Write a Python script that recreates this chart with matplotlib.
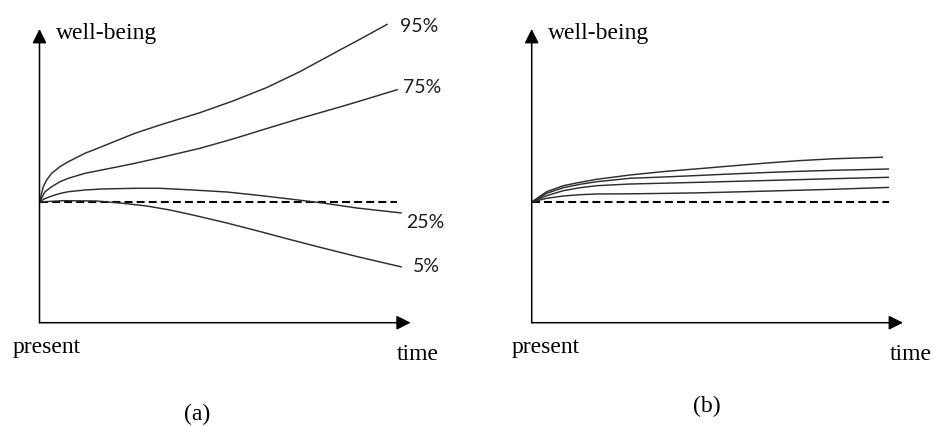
import matplotlib
matplotlib.use("Agg")
import matplotlib.pyplot as plt

# Panel (a): quantile paths of well-being over time (baseline = 0)
t95 = [0, 0.106, 0.201, 0.341, 0.573, 0.806, 1.273, 1.740, 2.204, 2.671, 3.371,
       4.490, 5.413, 6.364, 7.287, 8.406, 8.881, 9.748]
w95 = [0, 1.53, 2.2, 2.87, 3.53, 4.03, 4.87, 5.53, 6.2, 6.87, 7.7,
       8.93, 10.1, 11.45, 13.03, 15.2, 16.1, 17.8]

t75 = [0, 0.154, 0.341, 0.573, 0.806, 1.273, 1.740, 2.204, 2.671, 3.371,
       4.490, 5.413, 6.364, 7.287, 8.406, 8.881, 10.028]
w75 = [0, 1.03, 1.53, 2.03, 2.37, 2.87, 3.2, 3.53, 3.87, 4.43,
       5.37, 6.3, 7.35, 8.35, 9.5, 10.0, 11.25]

t25 = [0, 0.126, 0.341, 0.573, 0.806, 1.273, 1.740, 2.671, 3.371,
       4.294, 5.245, 6.168, 7.007, 7.930, 8.881, 10.14]
w25 = [0, 0.3, 0.6, 0.85, 1.03, 1.2, 1.3, 1.37, 1.37,
       1.2, 1.0, 0.65, 0.3, -0.1, -0.6, -1.1]

t05 = [0, 0.657, 1.600, 2.336, 2.999, 3.650, 4.294, 5.245, 6.168, 7.007, 7.930, 8.881, 10.14]
w05 = [0, 0.13, 0.1, -0.13, -0.4, -0.8, -1.3, -2.1, -2.95, -3.75, -4.6, -5.45, -6.5]

labels_a = ["95%", "75%", "25%", "5%"]

# Panel (b): four narrow paths, all above the baseline
tb = [0, 0.420, 0.884, 1.351, 1.818, 2.750, 3.681, 4.708, 5.631, 6.582, 7.505, 8.428, 10.0]
tb1 = tb[:-1] + [9.83]
wb1 = [0, 1.03, 1.63, 1.97, 2.27, 2.7, 3.04, 3.34, 3.62, 3.9, 4.14, 4.32, 4.48]
wb2 = [0, 0.87, 1.43, 1.77, 2.03, 2.37, 2.5, 2.66, 2.81, 2.95, 3.07, 3.17, 3.3]
wb3 = [0, 0.63, 1.13, 1.43, 1.63, 1.8, 1.88, 1.97, 2.06, 2.15, 2.24, 2.33, 2.47]
wb4 = [0, 0.37, 0.6, 0.73, 0.8, 0.82, 0.86, 0.92, 1.0, 1.09, 1.18, 1.27, 1.46]

t_end = 10.0
t_max = 10.39
w_min, w_max = -12.07, 17.3

W, H = 933, 426
fig = plt.figure(figsize=(W / 100, H / 100), dpi=100)
serif = "Liberation Serif"
curve_kw = dict(color="#2e2e2e", lw=1.05, solid_joinstyle="round",
                solid_capstyle="butt", clip_on=False)
arrow = dict(arrowstyle="-|>,head_length=0.86,head_width=0.43", mutation_scale=10,
             lw=1.1, color="black", shrinkA=0, shrinkB=0)


def px(x, y):
    return x / W, 1 - y / H


def make_panel(x0, x1):
    # x0/x1 in pixels: origin and arrow tip; y from x-axis (322.7) to tip (29)
    left, bottom = px(x0, 322.7)
    ax = fig.add_axes([left, bottom, (x1 - x0) / W, (322.7 - 29) / H])
    ax.set_xlim(0, t_max)
    ax.set_ylim(w_min, w_max)
    ax.axis("off")
    ax.annotate("", xy=(1, 0), xytext=(0, 0), xycoords="axes fraction",
                arrowprops=arrow, annotation_clip=False)
    ax.annotate("", xy=(0, 1), xytext=(0, 0), xycoords="axes fraction",
                arrowprops=arrow, annotation_clip=False)
    ax.plot([0, t_end], [0, 0], color="black", lw=1.5, linestyle=(0, (3.8, 2)))
    return ax


ax1 = make_panel(39.5, 410.7)
ax1.plot(t95, w95, **curve_kw)
ax1.plot(t75, w75, **curve_kw)
ax1.plot(t25, w25, **curve_kw)
ax1.plot(t05, w05, **curve_kw)

offsets = [(12, -2), (5, 2), (4, -10), (11, 0)]
ends = [(t95[-1], w95[-1]), (t75[-1], w75[-1]), (t25[-1], w25[-1]), (t05[-1], w05[-1])]
for lab, (te, we), off in zip(labels_a, ends, offsets):
    ax1.annotate(lab, xy=(te, we), xytext=off, textcoords="offset pixels",
                 ha="left", va="center", fontsize=14, family="Lato", color="#1e1e1e",
                 annotation_clip=False)

ax2 = make_panel(531.7, 903)
ax2.plot(tb1, wb1, **curve_kw)
for wb in (wb2, wb3, wb4):
    ax2.plot(tb, wb, **curve_kw)

txt = dict(fontsize=17, family=serif, color="black")
fig.text(*px(56, 34), "well-being", ha="left", va="center", **txt)
fig.text(*px(548, 34), "well-being", ha="left", va="center", **txt)
fig.text(*px(13, 347), "present", ha="left", va="center", **txt)
fig.text(*px(512, 347), "present", ha="left", va="center", **txt)
fig.text(*px(397, 355), "time", ha="left", va="center", **txt)
fig.text(*px(890, 355), "time", ha="left", va="center", **txt)
fig.text(*px(197, 414), "(a)", ha="center", va="center", **txt)
fig.text(*px(707, 406), "(b)", ha="center", va="center", **txt)

fig.savefig("out.png", dpi=100)
